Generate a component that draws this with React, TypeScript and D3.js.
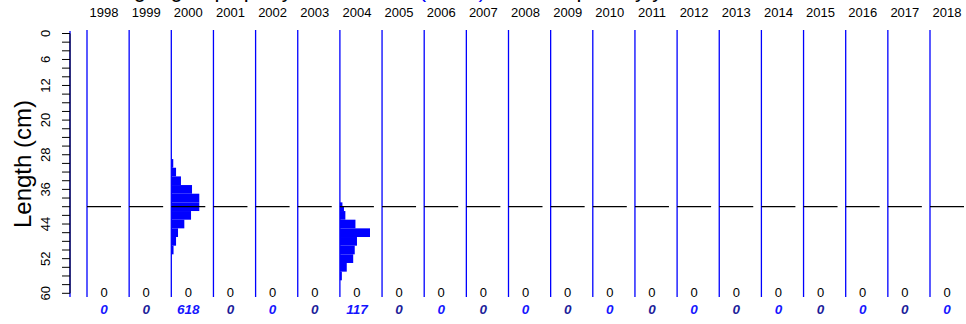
import React, { useEffect, useRef } from 'react';
import * as d3 from 'd3';

const years = [1998, 1999, 2000, 2001, 2002, 2003, 2004, 2005, 2006, 2007, 2008, 2009, 2010, 2011, 2012, 2013, 2014, 2015, 2016, 2017, 2018];
const countsTop = [0, 0, 0, 0, 0, 0, 0, 0, 0, 0, 0, 0, 0, 0, 0, 0, 0, 0, 0, 0, 0];
const countsMeasured = [0, 0, 618, 0, 0, 0, 117, 0, 0, 0, 0, 0, 0, 0, 0, 0, 0, 0, 0, 0, 0];

// length bins (cm) and relative frequency, per year with data
const binLo2000 = [29, 31, 33, 35, 37, 39, 41, 43, 45, 47, 49];
const binHi2000 = [31, 33, 35, 37, 39, 41, 43, 45, 47, 49, 51];
const freq2000 = [1.4, 3.4, 6.9, 14.8, 20.0, 20.0, 14.1, 9.3, 4.8, 3.4, 1.6];

const binLo2004 = [39, 40, 41, 43, 45, 47, 49, 51, 53, 55];
const binHi2004 = [40, 41, 43, 45, 47, 49, 51, 53, 55, 57];
const freq2004 = [1.8, 2.9, 3.9, 11.1, 21.5, 12.2, 10.6, 9.5, 4.9, 1.4];

const tickLabels = [0, 6, 12, 20, 28, 36, 44, 52, 60];
const refLength = 40;

const App: React.FC = () => {
  const svgRef = useRef<SVGSVGElement | null>(null);

  useEffect(() => {
    if (!svgRef.current) return;
    const width = 966;
    const height = 324;
    const font = "'Liberation Sans', Arial, sans-serif";

    const svg = d3.select(svgRef.current)
      .attr("width", width)
      .attr("height", height)
      .attr("font-family", font);
    svg.selectAll("*").remove();

    const y = d3.scaleLinear().domain([0, 60]).range([33.5, 293.3]);
    const x = d3.scaleLinear().domain([1998, 2018]).range([87, 930]);
    const w = d3.scaleLinear().domain([0, 30]).range([0, 42]);

    // title (mostly clipped at top of the picture)
    const title = svg.append("text")
      .attr("x", 97)
      .attr("y", -3)
      .attr("font-size", 22);
    title.append("tspan").attr("fill", "#000").text("Length groups per year in catch, ");
    title.append("tspan").attr("fill", "#0000ff").text("(n fish)");
    title.append("tspan").attr("fill", "#000").text(" and samples by year");

    // year labels
    svg.append("g")
      .attr("font-size", 13)
      .attr("text-anchor", "middle")
      .selectAll("text")
      .data(years)
      .join("text")
      .attr("x", d => x(d) + 17)
      .attr("y", 17)
      .text(d => d);

    // histograms
    const hists = [
      { year: 2000, lo: binLo2000, hi: binHi2000, f: freq2000 },
      { year: 2004, lo: binLo2004, hi: binHi2004, f: freq2004 },
    ];
    hists.forEach(h => {
      svg.append("g")
        .selectAll("rect")
        .data(h.f)
        .join("rect")
        .attr("x", x(h.year))
        .attr("y", (d, i) => y(h.lo[i]))
        .attr("width", d => w(d))
        .attr("height", (d, i) => y(h.hi[i]) - y(h.lo[i]))
        .attr("fill", "#0000ff");
    });

    // panel separators
    svg.append("g")
      .selectAll("line")
      .data(years)
      .join("line")
      .attr("x1", d => x(d))
      .attr("x2", d => x(d))
      .attr("y1", 30)
      .attr("y2", 297)
      .attr("stroke", "#0000ff")
      .attr("stroke-width", 1.3);

    // reference length lines
    svg.append("g")
      .selectAll("line")
      .data(years)
      .join("line")
      .attr("x1", d => x(d))
      .attr("x2", d => x(d) + 34)
      .attr("y1", y(refLength))
      .attr("y2", y(refLength))
      .attr("stroke", "#000")
      .attr("stroke-width", 1.3);

    // y axis
    const axisX = 70;
    svg.append("line")
      .attr("x1", axisX).attr("x2", axisX)
      .attr("y1", 31).attr("y2", 297)
      .attr("stroke", "#0000ff")
      .attr("stroke-width", 1.3);
    svg.append("g")
      .selectAll("line")
      .data(d3.range(0, 61, 2))
      .join("line")
      .attr("x1", axisX - 8)
      .attr("x2", axisX)
      .attr("y1", d => y(d))
      .attr("y2", d => y(d))
      .attr("stroke", "#000")
      .attr("stroke-width", 1);
    svg.append("line")
      .attr("x1", axisX).attr("x2", axisX)
      .attr("y1", y(0)).attr("y2", y(60))
      .attr("stroke", "#000")
      .attr("stroke-width", 1);
    svg.append("g")
      .attr("font-size", 13)
      .attr("text-anchor", "middle")
      .selectAll("text")
      .data(tickLabels)
      .join("text")
      .attr("transform", d => `translate(50,${y(d)}) rotate(-90)`)
      .text(d => d);
    svg.append("text")
      .attr("transform", `translate(31,164) rotate(-90)`)
      .attr("text-anchor", "middle")
      .attr("font-size", 24)
      .text("Length (cm)");

    // counts under panels
    svg.append("g")
      .attr("font-size", 13)
      .attr("text-anchor", "middle")
      .selectAll("text")
      .data(countsTop)
      .join("text")
      .attr("x", (d, i) => x(years[i]) + 17)
      .attr("y", 297)
      .text(d => d);
    svg.append("g")
      .attr("font-size", 13.5)
      .attr("font-weight", "bold")
      .attr("font-style", "italic")
      .attr("text-anchor", "middle")
      .selectAll("text")
      .data(countsMeasured)
      .join("text")
      .attr("x", (d, i) => x(years[i]) + 17)
      .attr("y", 314)
      .attr("fill", (d, i) => years[i] % 2 === 0 ? "#1515ff" : "#1c1c9a")
      .text(d => d);
  }, []);

  return <svg ref={svgRef} style={{ position: 'absolute', left: 0, top: 0, background: '#fff' }}></svg>;
};

export default App;
